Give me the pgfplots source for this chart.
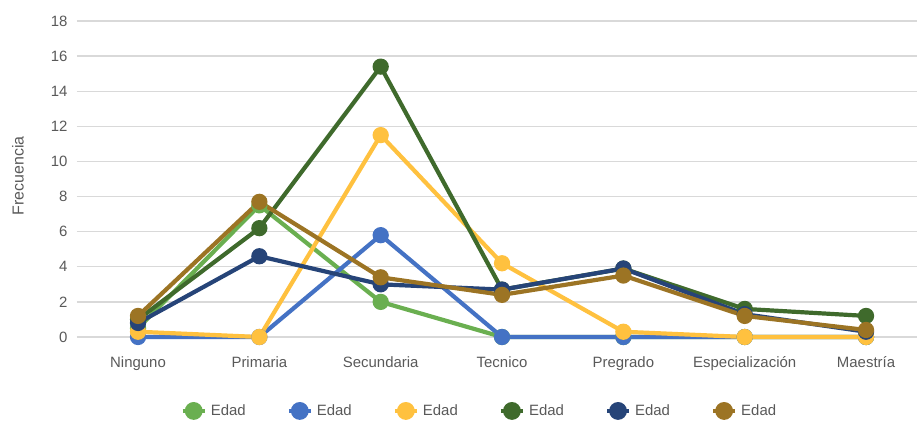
\documentclass[border=0pt]{standalone}
\usepackage{pgfplots}
\pgfplotsset{compat=1.18}
\usepackage{fontspec}
\setmainfont{Liberation Sans}
\definecolor{cA}{HTML}{6AAF50}
\definecolor{cB}{HTML}{4472C4}
\definecolor{cC}{HTML}{FFC13F}
\definecolor{cD}{HTML}{3F6A2C}
\definecolor{cE}{HTML}{264478}
\definecolor{cF}{HTML}{9C7424}
\definecolor{txtgray}{HTML}{595959}
\definecolor{gridgray}{HTML}{D9D9D9}
\begin{document}
\begin{tikzpicture}
\useasboundingbox (-77bp,-86bp) rectangle (840bp,337bp);
\begin{axis}[
  at={(0,0)}, anchor=south west,
  scale only axis, width=840bp, height=316bp,
  xmin=-0.503, xmax=6.42, ymin=0, ymax=18,
  xtick={0,...,6},
  xticklabels={Ninguno,Primaria,Secundaria,Tecnico,Pregrado,Especialización,Maestría},
  ytick={0,2,...,18},
  axis line style={draw=none}, major tick length=0pt,
  ymajorgrids, grid style={draw=gridgray, line width=1.3bp},
  ticklabel style={font=\fontsize{15}{18}\selectfont, text=txtgray},
  xticklabel style={yshift=-16bp},
  yticklabel style={xshift=-6bp},
  /pgf/number format/assume math mode=true,
  ylabel={Frecuencia},
  ylabel style={font=\fontsize{16}{19}\selectfont, text=txtgray, at={(axis description cs:-0.0702,0.51)}, anchor=center},
  clip=false,
  legend columns=6,
  legend style={draw=none, fill=none, at={(axis description cs:0.479,-0.234)}, anchor=center,
    font=\fontsize{15}{18}\selectfont, text=txtgray,
    /tikz/every even column/.append style={column sep=39bp},
    /tikz/every odd column/.append style={column sep=2bp}},
  legend image code/.code={\draw[mark repeat=2,mark phase=2,#1,line width=4.2bp,mark size=6.8bp] plot coordinates {(0bp,0bp) (11bp,0bp) (22bp,0bp)};},
  every axis plot/.append style={line width=4.2bp, mark=*, mark size=6bp},
]
\addplot[cA, mark options={fill=cA, draw=cA}] coordinates {(0,0.5) (1,7.5) (2,2) (3,0) (4,0) (5,0) (6,0)};
\addlegendentry{Edad}
\addplot[cB, mark options={fill=cB, draw=cB}] coordinates {(0,0) (1,0) (2,5.8) (3,0) (4,0) (5,0) (6,0)};
\addlegendentry{Edad}
\addplot[cC, mark options={fill=cC, draw=cC}] coordinates {(0,0.3) (1,0) (2,11.5) (3,4.2) (4,0.3) (5,0) (6,0)};
\addlegendentry{Edad}
\addplot[cD, mark options={fill=cD, draw=cD}] coordinates {(0,1.0) (1,6.2) (2,15.4) (3,2.7) (4,3.9) (5,1.6) (6,1.2)};
\addlegendentry{Edad}
\addplot[cE, mark options={fill=cE, draw=cE}] coordinates {(0,0.8) (1,4.6) (2,3.0) (3,2.7) (4,3.9) (5,1.3) (6,0.3)};
\addlegendentry{Edad}
\addplot[cF, mark options={fill=cF, draw=cF}] coordinates {(0,1.2) (1,7.7) (2,3.4) (3,2.4) (4,3.5) (5,1.2) (6,0.4)};
\addlegendentry{Edad}
\end{axis}
\end{tikzpicture}
\end{document}
